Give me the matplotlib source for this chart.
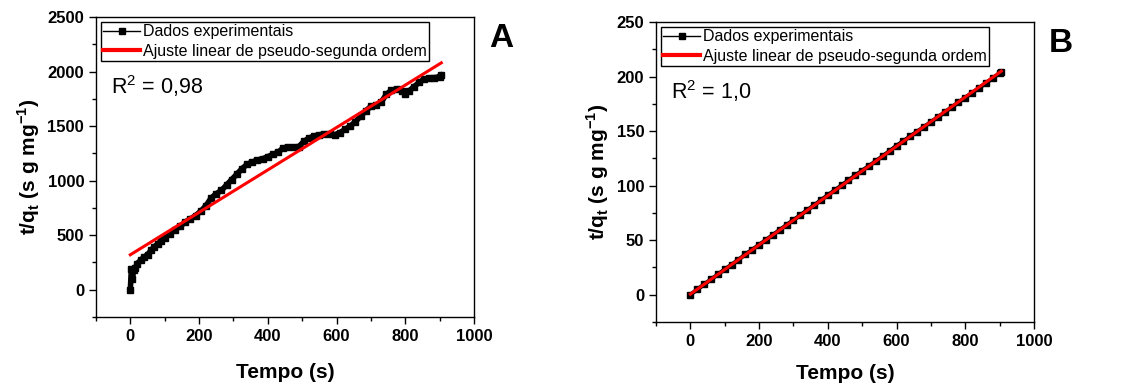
import matplotlib
matplotlib.use("Agg")
import matplotlib.pyplot as plt
from matplotlib.ticker import MultipleLocator

# Panel A - experimental t/q vs time
t_A = [0, 3, 6, 10, 15, 20, 30, 40, 50, 60, 70, 80, 90, 100, 115, 130, 145, 160, 175,
       190, 205, 220, 235, 250, 265, 280, 295, 310, 325, 340, 355, 370, 385, 400, 415,
       430, 445, 460, 475, 490, 505, 520, 535, 550, 565, 580, 595, 610, 625, 640, 655,
       670, 685, 700, 715, 730, 745, 760, 775, 790, 800, 810, 825, 840, 855, 870, 885,
       900, 905]
tq_A = [0, 190, 100, 180, 200, 240, 270, 300, 320, 360, 395, 420, 450, 475, 510, 550,
        580, 620, 650, 680, 720, 770, 840, 880, 910, 960, 1010, 1060, 1110, 1150, 1170,
        1190, 1200, 1220, 1240, 1260, 1300, 1310, 1310, 1310, 1360, 1390, 1410, 1420,
        1430, 1430, 1420, 1440, 1470, 1500, 1540, 1590, 1640, 1680, 1690, 1720, 1790,
        1830, 1840, 1820, 1790, 1820, 1860, 1900, 1930, 1940, 1945, 1950, 1965]
fit_t_A = [0, 905]
fit_A = [320, 2080]

# Panel B
t_B = [0, 20, 40, 60, 80, 100, 120, 140, 160, 180, 200, 220, 240, 260, 280, 300, 320,
       340, 360, 380, 400, 420, 440, 460, 480, 500, 520, 540, 560, 580, 600, 620, 640,
       660, 680, 700, 720, 740, 760, 780, 800, 820, 840, 860, 880, 900, 905]
tq_B = [0, 4.8, 9.5, 14.0, 18.6, 23.2, 27.6, 32.1, 37.0, 41.3, 45.8, 50.2, 54.9, 59.4,
        64.0, 68.5, 72.9, 77.6, 82.0, 86.7, 91.3, 95.7, 100.3, 104.9, 109.4, 113.8,
        118.2, 122.6, 127.2, 131.8, 136.6, 140.9, 145.3, 149.6, 154.0, 158.4, 162.8,
        167.3, 171.8, 176.3, 180.8, 185.1, 189.6, 194.0, 198.5, 203.2, 204.5]
fit_t_B = [0, 905]
fit_B = [0.5, 205]

plt.rcParams["font.family"] = ["Liberation Sans", "DejaVu Sans"]
plt.rcParams["mathtext.fontset"] = "custom"
plt.rcParams["mathtext.rm"] = "Liberation Sans"
plt.rcParams["mathtext.bf"] = "Liberation Sans:bold"

fig = plt.figure(figsize=(11.21, 3.87), dpi=100)
axA = fig.add_axes([0.0856, 0.181, 0.3372, 0.775])
axB = fig.add_axes([0.5852, 0.168, 0.3372, 0.775])

panels = [
    (axA, t_A, tq_A, fit_t_A, fit_A, (-250, 2500), 500, 250, "R$^2$ = 0,98", "A", 5, 4, 14),
    (axB, t_B, tq_B, fit_t_B, fit_B, (-25, 250), 50, 25, "R$^2$ = 1,0", "B", 4, 3, 11),
]

for ax, t, tq, ft, fy, ylim, ymaj, ymin, r2, letter, ms, lw, xpad in panels:
    ax.plot(t, tq, color="black", marker="s", markersize=ms, linewidth=lw,
            label="Dados experimentais")
    ax.plot(ft, fy, color="#ff0000", linewidth=2.2,
            label="Ajuste linear de pseudo-segunda ordem")

    ax.set_xlim(-100, 1000)
    ax.set_ylim(*ylim)
    ax.xaxis.set_major_locator(MultipleLocator(200))
    ax.xaxis.set_minor_locator(MultipleLocator(100))
    ax.yaxis.set_major_locator(MultipleLocator(ymaj))
    ax.yaxis.set_minor_locator(MultipleLocator(ymin))
    ax.tick_params(which="both", direction="out", top=False, right=False)
    ax.tick_params(which="major", length=5, width=1, labelsize=12)
    ax.tick_params(which="minor", length=3, width=1)
    for lab in ax.get_xticklabels() + ax.get_yticklabels():
        lab.set_fontweight("bold")
    for sp in ax.spines.values():
        sp.set_linewidth(1)

    ax.set_xlabel("Tempo (s)", fontsize=15, fontweight="bold", labelpad=xpad)
    ax.set_ylabel(r"t/q$_\mathbf{t}$ (s g mg$^\mathbf{-1}$)", fontsize=15,
                  fontweight="bold", labelpad=4)

    leg = ax.legend(loc="upper left", fontsize=11.5, frameon=True, fancybox=False,
                    edgecolor="black", framealpha=1, borderaxespad=0.3,
                    handlelength=2.3, numpoints=1, borderpad=0.15,
                    labelspacing=0.3, handletextpad=0.2)
    leg.get_frame().set_linewidth(1)
    leg.get_lines()[0].set_linewidth(1)
    leg.get_lines()[0].set_markersize(4)
    leg.get_lines()[1].set_linewidth(3)

    ax.text(0.04, 0.745, r2, transform=ax.transAxes, fontsize=15.5)
    ax.text(1.04, 0.98, letter, transform=ax.transAxes, fontsize=24,
            fontweight="bold", va="top", ha="left")

fig.savefig("out.png", dpi=100)
plt.close(fig)
